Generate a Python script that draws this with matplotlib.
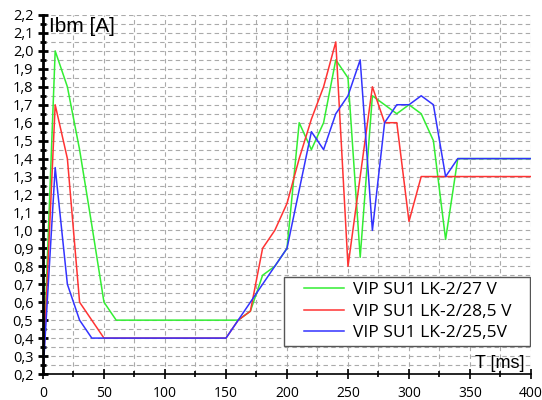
import numpy as np
import matplotlib.pyplot as plt
from matplotlib.patches import Rectangle
from matplotlib.ticker import MultipleLocator, FuncFormatter

plt.rcParams['font.family'] = ['Open Sans', 'DejaVu Sans']

# VIP SU1 LK-2/27 V
t_27 = [0, 10, 20, 30, 40, 50, 60, 160, 170, 180, 190, 200, 210, 220, 230, 240, 250,
        260, 270, 290, 300, 310, 320, 330, 340, 400]
i_27 = [0.2, 2.0, 1.8, 1.45, 1.03, 0.6, 0.5, 0.5, 0.55, 0.75, 0.8, 0.9, 1.6, 1.45, 1.6, 1.95, 1.85,
        0.85, 1.75, 1.65, 1.7, 1.65, 1.5, 0.95, 1.4, 1.4]

# VIP SU1 LK-2/28,5 V
t_285 = [0, 10, 20, 30, 50, 150, 160, 170, 180, 190, 200, 210, 220, 230, 240, 250,
         270, 280, 290, 300, 310, 400]
i_285 = [0.2, 1.7, 1.4, 0.6, 0.4, 0.4, 0.5, 0.55, 0.9, 1.0, 1.15, 1.4, 1.62, 1.8, 2.05, 0.8,
         1.8, 1.6, 1.6, 1.05, 1.3, 1.3]

# VIP SU1 LK-2/25,5V
t_255 = [0, 10, 20, 30, 40, 150, 200, 220, 230, 240, 250, 260, 270, 280, 290, 300,
         310, 320, 330, 340, 400]
i_255 = [0.2, 1.35, 0.7, 0.5, 0.4, 0.4, 0.9, 1.55, 1.45, 1.65, 1.75, 1.95, 1.0, 1.6, 1.7, 1.7,
         1.75, 1.7, 1.3, 1.4, 1.4]

fig = plt.figure(figsize=(5.42, 4.0), dpi=100)
ax = fig.add_axes([0.0793, 0.065, 0.9004, 0.8975])

ax.plot(t_27, i_27, color='#33ee33', lw=1.1, label='VIP SU1 LK-2/27 V')
ax.plot(t_285, i_285, color='#ff3333', lw=1.1, label='VIP SU1 LK-2/28,5 V')
ax.plot(t_255, i_255, color='#3333ff', lw=1.1, label='VIP SU1 LK-2/25,5V')

ax.set_xlim(0, 400)
ax.set_ylim(0.2, 2.2)
ax.xaxis.set_major_locator(MultipleLocator(50))
ax.xaxis.set_minor_locator(MultipleLocator(25))
ax.yaxis.set_major_locator(MultipleLocator(0.1))
ax.yaxis.set_minor_locator(MultipleLocator(0.05))
ax.yaxis.set_major_formatter(FuncFormatter(lambda v, p: f'{v:.1f}'.replace('.', ',')))

ax.grid(True, which='both', color='#aaaaaa', ls=(0, (4, 3)), lw=0.8)
ax.set_axisbelow(True)

for s in ['top', 'right']:
    ax.spines[s].set_visible(False)
ax.spines['left'].set_linewidth(2)
ax.spines['bottom'].set_linewidth(1.2)
ax.tick_params(axis='both', which='major', direction='inout', length=7, width=1.2, labelsize=10.5)
ax.tick_params(axis='x', which='major', pad=5, labelsize=10)
ax.tick_params(axis='both', which='minor', direction='inout', length=4, width=1.2)
ax.tick_params(axis='y', which='both', width=2)

ax.text(0.013, 0.995, 'Ibm [A]', transform=ax.transAxes, fontsize=15,
        ha='left', va='top', family=['Liberation Sans', 'DejaVu Sans'])
ax.text(0.935, 0.005, 'T [ms]', transform=ax.transAxes, fontsize=13,
        ha='center', va='bottom', family=['Liberation Sans', 'DejaVu Sans'])

# legend box drawn separately, legend entries placed inside it
box = Rectangle((0.494, 0.078), 0.504, 0.192, transform=ax.transAxes, facecolor='white',
                edgecolor='#555555', lw=1.0, zorder=4)
ax.add_patch(box)
leg = ax.legend(loc='center left', bbox_to_anchor=(0.535, 0.174), frameon=False,
                fontsize=12.5, handlelength=2.3, handletextpad=0.5, borderaxespad=0,
                labelspacing=0.3, borderpad=0)
leg.set_zorder(5)

fig.savefig('out.png', dpi=100)
